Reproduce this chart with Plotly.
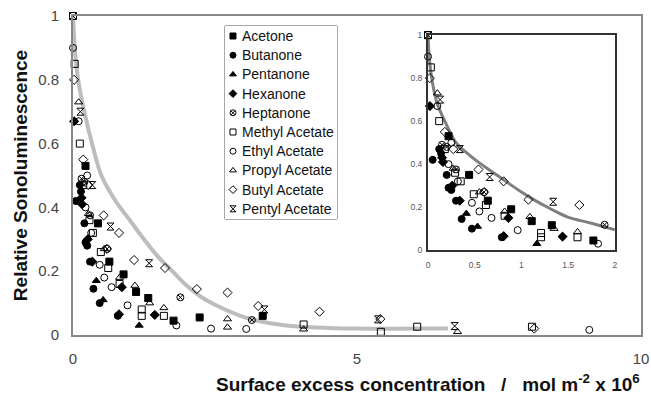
import numpy as np
import plotly.graph_objects as go

# Relative sonoluminescence vs surface excess concentration (x 10^6 mol m^-2)
acetone_x = [0.22, 0.44, 0.64, 0.89, 1.11, 1.325, 1.77, 2.23, 3.34]
acetone_y = [0.53, 0.35, 0.23, 0.19, 0.135, 0.116, 0.045, 0.055, 0.06]

butanone_x = [0.05, 0.12, 0.14, 0.20, 0.22, 0.25, 0.30, 0.36, 0.47, 0.79]
butanone_y = [0.42, 0.47, 0.45, 0.35, 0.29, 0.28, 0.23, 0.145, 0.10, 0.06]

pentanone_x = [0.41, 0.53, 1.165]
pentanone_y = [0.17, 0.11, 0.03]

hexanone_x = [0.02, 0.15, 0.16, 0.26, 0.34, 0.86, 0.81, 1.44]
hexanone_y = [0.67, 0.43, 0.41, 0.30, 0.23, 0.15, 0.065, 0.063]

heptanone_x = [0.15, 0.20, 0.30, 0.60, 1.89, 3.15]
heptanone_y = [0.49, 0.48, 0.375, 0.27, 0.118, 0.047]

methyl_x = [0.0, 0.03, 0.12, 0.18, 0.29, 0.35, 0.49, 0.62, 0.82, 1.21, 1.21, 1.60, 4.06, 5.42, 6.06, 8.08]
methyl_y = [1.0, 0.85, 0.60, 0.47, 0.36, 0.32, 0.26, 0.21, 0.16, 0.08, 0.06, 0.06, 0.033, 0.01, 0.026, 0.026]

ethyl_x = [0.0, 0.10, 0.25, 0.22, 0.32, 0.47, 0.55, 0.68, 0.96, 1.82, 2.43, 3.05, 9.09]
ethyl_y = [0.90, 0.67, 0.50, 0.40, 0.32, 0.22, 0.18, 0.15, 0.093, 0.03, 0.02, 0.019, 0.016]

propyl_x = [0.10, 0.27, 0.55, 0.82, 1.09, 1.35, 1.60, 2.72, 2.72, 4.06, 6.77]
propyl_y = [0.73, 0.38, 0.27, 0.18, 0.155, 0.10, 0.085, 0.05, 0.024, 0.018, 0.01]

butyl_x = [0.02, 0.18, 0.27, 0.54, 0.60, 0.81, 1.075, 1.62, 2.18, 2.72, 3.26, 4.34, 5.41, 8.12]
butyl_y = [0.80, 0.55, 0.47, 0.375, 0.27, 0.32, 0.235, 0.21, 0.144, 0.133, 0.091, 0.073, 0.05, 0.02]

pentyl_x = [0.0, 0.13, 0.34, 0.66, 1.34, 3.37, 5.37, 6.72]
pentyl_y = [1.0, 0.70, 0.47, 0.34, 0.225, 0.08, 0.049, 0.028]

# fitted trend lines (main panel and 0-2 inset)
fit_main_x = [0, 0.02, 0.05, 0.1, 0.2, 0.35, 0.5, 0.75, 1.0, 1.25, 1.5, 1.75, 2.0, 2.25, 2.5, 3.0, 3.5, 4.0, 4.5, 5.0, 6.0, 6.6]
fit_main_y = [1.0, 0.93, 0.86, 0.79, 0.70, 0.59, 0.50, 0.42, 0.36, 0.30, 0.245, 0.20, 0.155, 0.12, 0.095, 0.057, 0.036, 0.026, 0.022, 0.02, 0.02, 0.02]

fit_inset_x = [0, 0.01, 0.03, 0.06, 0.1, 0.18, 0.3, 0.45, 0.6, 0.8, 1.0, 1.13, 1.3, 1.49, 1.75, 2.0]
fit_inset_y = [1.0, 0.92, 0.83, 0.75, 0.68, 0.60, 0.50, 0.44, 0.39, 0.33, 0.27, 0.235, 0.195, 0.155, 0.125, 0.095]

series = [
    ("Acetone", acetone_x, acetone_y, "square"),
    ("Butanone", butanone_x, butanone_y, "circle"),
    ("Pentanone", pentanone_x, pentanone_y, "triangle-up"),
    ("Hexanone", hexanone_x, hexanone_y, "diamond"),
    ("Heptanone", heptanone_x, heptanone_y, "circle-x-open"),
    ("Methyl Acetate", methyl_x, methyl_y, "square-open"),
    ("Ethyl Acetate", ethyl_x, ethyl_y, "circle-open"),
    ("Propyl Acetate", propyl_x, propyl_y, "triangle-up-open"),
    ("Butyl Acetate", butyl_x, butyl_y, "diamond-open"),
    ("Pentyl Acetate", pentyl_x, pentyl_y, "hourglass-open"),
]

FONT = "Liberation Sans, Arial, sans-serif"
MARKER_SIZE = 7
fig = go.Figure()

fig.add_trace(go.Scatter(x=fit_main_x, y=fit_main_y, mode="lines",
                         line=dict(color="#bdbdbd", width=4, shape="spline"),
                         showlegend=False, hoverinfo="skip"))
fig.add_trace(go.Scatter(x=fit_inset_x, y=fit_inset_y, mode="lines",
                         line=dict(color="#7f7f7f", width=3, shape="spline"),
                         showlegend=False, hoverinfo="skip",
                         xaxis="x2", yaxis="y2"))

for name, xs, ys, sym in series:
    marker = dict(symbol=sym, size=MARKER_SIZE, color="black",
                  line=dict(color="black", width=1))
    fig.add_trace(go.Scatter(x=xs, y=ys, mode="markers", name=name,
                             marker=marker, cliponaxis=False, showlegend=False))
    xa = np.array(xs)
    ya = np.array(ys)
    keep = xa <= 2.0
    fig.add_trace(go.Scatter(x=xa[keep], y=ya[keep], mode="markers", name=name,
                             marker=marker, cliponaxis=False, showlegend=False,
                             xaxis="x2", yaxis="y2"))

# key: one symbol + label per row on its own small axis pair
names = [s[0] for s in series]
symbols = [s[3] for s in series]
rows = np.arange(len(series))
row_y = 10 + 19.2 * rows
fig.add_trace(go.Scatter(x=np.full(len(series), 8.0), y=row_y, mode="markers",
                         marker=dict(symbol=symbols, size=6, color="black",
                                     line=dict(color="black", width=1)),
                         showlegend=False, hoverinfo="skip", cliponaxis=False,
                         xaxis="x3", yaxis="y3"))
for nm, yy in zip(names, row_y):
    fig.add_annotation(text=nm, x=15, y=yy, xref="x3", yref="y3",
                       xanchor="left", yanchor="middle", showarrow=False,
                       font=dict(family=FONT, size=14, color="#111"))
fig.add_shape(type="rect", xref="x3 domain", yref="y3 domain", x0=0, x1=1, y0=0, y1=1,
              line=dict(color="#555", width=1), fillcolor="white", layer="below")

hidden = dict(visible=False, showgrid=False, zeroline=False, automargin=False)

fig.update_layout(
    width=651, height=396,
    margin=dict(l=73, r=10, t=16, b=61),
    paper_bgcolor="white", plot_bgcolor="white",
    font=dict(family=FONT, color="#333"),
    showlegend=False,
    xaxis=dict(range=[0, 10], tickvals=[0, 5, 10], ticktext=["0", "5", "10"],
               showgrid=False, zeroline=False, showline=True, mirror=True,
               linecolor="#888", linewidth=2, automargin=False,
               ticks="outside", ticklen=9, tickcolor="rgba(0,0,0,0)",
               tickfont=dict(size=15, color="#444"), domain=[0, 1]),
    yaxis=dict(range=[0, 1], tickvals=[0, 0.2, 0.4, 0.6, 0.8, 1],
               ticktext=["0", "0.2", "0.4", "0.6", "0.8", "1"],
               showgrid=False, zeroline=False, showline=True, mirror=True,
               linecolor="#888", linewidth=2, automargin=False,
               ticks="outside", ticklen=9, tickcolor="rgba(0,0,0,0)",
               tickfont=dict(size=15, color="#444"), domain=[0, 1]),
    xaxis2=dict(range=[0, 2], tickvals=[0, 0.5, 1, 1.5, 2],
                ticktext=["0", "0.5", "1", "1.5", "2"],
                domain=[0.625, 0.954], anchor="y2", automargin=False,
                showgrid=False, zeroline=False, showline=True, mirror=True,
                linecolor="#333", linewidth=2,
                ticks="outside", ticklen=6, tickcolor="rgba(0,0,0,0)",
                tickfont=dict(size=8.5, color="#555")),
    yaxis2=dict(range=[0, 1], tickvals=[0, 0.2, 0.4, 0.6, 0.8, 1],
                ticktext=["0", "0.2", "0.4", "0.6", "0.8", "1"],
                domain=[0.266, 0.940], anchor="x2", automargin=False,
                showgrid=False, zeroline=False, showline=True, mirror=True,
                linecolor="#333", linewidth=2,
                ticks="outside", ticklen=2, tickcolor="rgba(0,0,0,0)",
                tickfont=dict(size=8.5, color="#555")),
    xaxis3=dict(range=[0, 112], domain=[0.2676, 0.4648], anchor="y3", **hidden),
    yaxis3=dict(range=[193, 0], domain=[0.3636, 0.9687], anchor="x3", **hidden),
)

fig.add_annotation(text="<b>Relative Sonoluminescence</b>", xref="paper", yref="paper",
                   x=-0.0933, y=0.498, xanchor="center", yanchor="middle",
                   textangle=-90, showarrow=False,
                   font=dict(family=FONT, size=19, color="#111"))
fig.add_annotation(text="<b>Surface excess concentration&nbsp;&nbsp;&nbsp;/&nbsp;&nbsp;&nbsp;mol m<sup>-2</sup> x 10<sup>6</sup></b>",
                   xref="paper", yref="paper", x=0.625, y=-0.150,
                   xanchor="center", yanchor="middle", showarrow=False,
                   font=dict(family=FONT, size=19, color="#111"))

fig.write_html("out.html")
